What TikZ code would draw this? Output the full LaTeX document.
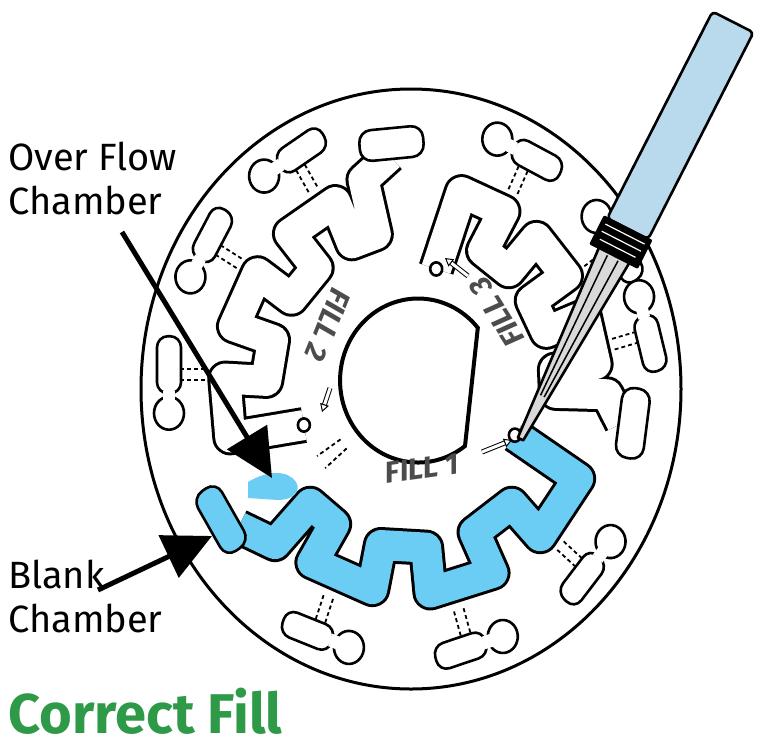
\documentclass[tikz,border=0pt]{standalone}
\usepackage{fontspec}
\setmainfont{Fira Sans}
\usetikzlibrary{arrows.meta}
\definecolor{fillblue}{HTML}{6CCDF4}
\definecolor{tubeblue}{HTML}{B9D9EC}
\definecolor{okgreen}{HTML}{2E9A48}
\tikzset{
  ol/.style={line width=2.6pt,line join=round},
  chan/.style={line width=36pt,line join=round},
  chanin/.style={line width=30pt,line join=round},
  lab/.style={font=\fontsize{38}{44}\selectfont,align=left,anchor=north west,inner sep=0pt},
  filltxt/.style={font=\fontsize{30}{30}\selectfont\bfseries\itshape,inner sep=1pt,text=black!70},
  bigarrow/.style={line width=5pt,-{Triangle[length=48pt,width=46pt]}},
}
\newcommand{\snpath}[2]{({#1}:112) -- ({#1+4*#2}:186) -- ({#1+24*#2}:186) -- ({#1+24*#2}:145) -- ({#1+42*#2}:145) -- ({#1+42*#2}:186) -- ({#1+62*#2}:186) -- ({#1+62*#2}:145) -- ({#1+80*#2}:145) -- ({#1+80*#2}:186) -- ({#1+100*#2}:186) -- ({#1+100*#2}:145) -- ({#1+112*#2}:145) -- ({#1+112*#2}:196) -- ({#1+122*#2}:213)}
\newcommand{\snk}[3]{% start, scale, colour
  \draw[chan,black] \snpath{#1}{#2};
  \draw[chanin,#3] \snpath{#1}{#2};
  \draw[ol,fill=white] ({#1}:112) circle[radius=6];
}
\newcommand{\pod}[1]{%
  \begin{scope}[rotate=-#1]
    \draw[ol,fill=white,rounded corners=11pt] (230,-4) rectangle (254,48);
    \draw[ol,fill=white] (242,-22) circle[radius=15];
    \fill[white] (236,-10) rectangle (248,-2);
    \draw[line width=1.8pt,dash pattern=on 4pt off 3pt] (206,8) -- (230,8) (206,18) -- (230,18);
  \end{scope}}
\newcommand{\chamb}[2]{%
  \begin{scope}[rotate=-#1]
    \draw[ol,fill=#2,rounded corners=12pt] (210,-32) rectangle (238,32);
  \end{scope}}
\begin{document}
\begin{tikzpicture}[x=1pt,y=-1pt]
\useasboundingbox (0,0) rectangle (761,748);
% disc
\draw[ol,fill=white,line width=3pt] (411,389) ellipse[x radius=270,y radius=300];
\begin{scope}[shift={(411,389)},yscale=1.1]
  \snk{22}{1}{fillblue}
  \snk{163}{0.83}{white}
  \snk{283}{0.70}{white}
  \foreach \a in {40,73,110,180,210,238,296,325,345} {\pod{\a}}
  \chamb{148}{fillblue}
  \chamb{265}{white}
  \chamb{8}{white}
  \draw[line width=1.8pt,dash pattern=on 4pt off 3pt] (140:84) -- (140:112) (147:84) -- (147:112);
\end{scope}
% overflow blob
\fill[fillblue] (248,482) .. controls (268,470) and (288,470) .. (296,482) .. controls (302,492) and (292,500) .. (278,500) -- (248,498) -- cycle;
% hole
\draw[line width=4pt,fill=white] (465,446) arc[start angle=53,end angle=320,x radius=78,y radius=82] -- cycle;
% FILL texts
\node[filltxt,rotate=8] (f1) at (422,468) {FILL 1};
\node[filltxt,rotate=-112] (f2) at (328,325) {FILL 2};
\node[filltxt,rotate=122] (f3) at (497,312) {FILL 3};
\coordinate (a1s) at (482,452); \coordinate (a1e) at (512,440);
\draw[double,double distance=3pt,line width=1pt,-{Triangle[open,length=8pt,width=9pt]}] (a1s) -- (a1e);
\coordinate (a2s) at (330,388); \coordinate (a2e) at (322,412);
\draw[double,double distance=3pt,line width=1pt,-{Triangle[open,length=8pt,width=9pt]}] (a2s) -- (a2e);
\coordinate (a3s) at (468,276); \coordinate (a3e) at (445,258);
\draw[double,double distance=3pt,line width=1pt,-{Triangle[open,length=8pt,width=9pt]}] (a3s) -- (a3e);
% pipette
\begin{scope}[shift={(733,22)},rotate=-117]
  \draw[ol,fill=tubeblue,rounded corners=4pt] (0,-23) rectangle (232,23);
  \draw[ol,fill=black] (232,-26) rectangle (262,26);
  \draw[white,line width=1.2pt] (238,-22) -- (238,22) (246,-22) -- (246,22) (254,-20) -- (254,20);
  \draw[ol,fill=black!15] (262,-17) -- (468,-3) -- (468,3) -- (262,17) -- cycle;
  \draw[line width=1.5pt] (265,-6) -- (420,-2) (265,6) -- (420,2);
\end{scope}
% labels
\node[lab] (ovf) at (8,142) {Over Flow\\Chamber};
\node[lab] (blk) at (8,560) {Blank\\Chamber};
\node[inner sep=0pt,anchor=north west,font=\bfseries\fontsize{56}{56}\selectfont,text=okgreen] (cf) at (8,688) {Correct Fill};
\coordinate (ovt) at (272,478);
\coordinate (ovs) at (122,232);
\draw[bigarrow] (ovs) -- (ovt);
\coordinate (bkt) at (212,536);
\coordinate (bks) at (98,590);
\draw[bigarrow] (bks) -- (bkt);
\end{tikzpicture}
\end{document}
